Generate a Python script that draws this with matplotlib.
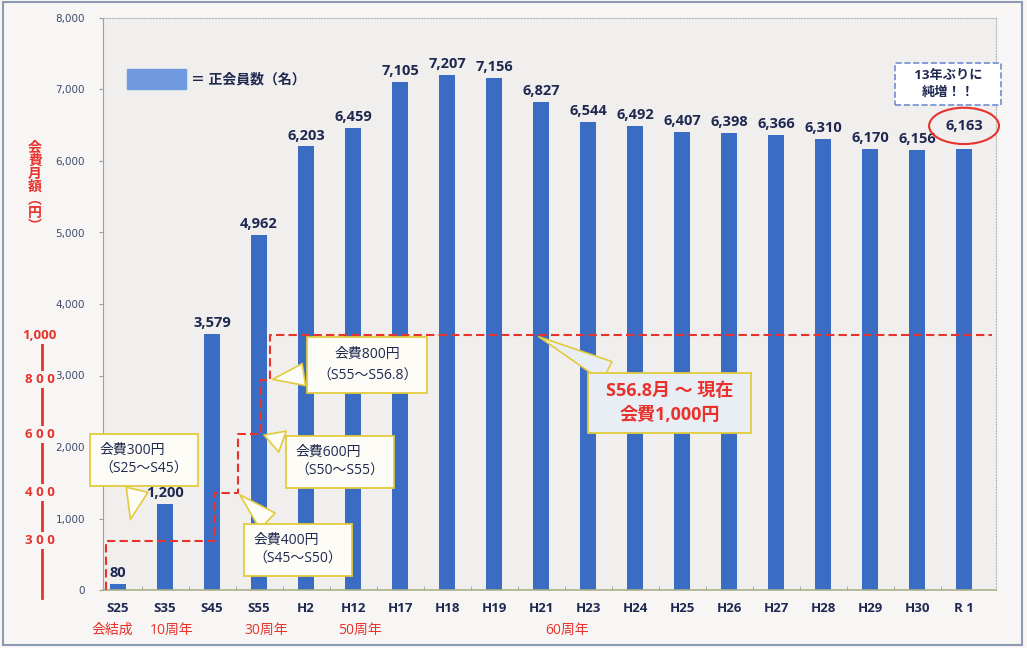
import numpy as np
import matplotlib
matplotlib.use("Agg")
import matplotlib.pyplot as plt
from matplotlib.patches import Rectangle
from matplotlib.transforms import blended_transform_factory

plt.rcParams['font.family'] = ['Open Sans', 'Noto Sans CJK JP', 'DejaVu Sans']

# members per year
categories = ['S25', 'S35', 'S45', 'S55', 'H2', 'H12', 'H17', 'H18', 'H19', 'H21',
              'H23', 'H24', 'H25', 'H26', 'H27', 'H28', 'H29', 'H30', 'R 1']
members = [80, 1200, 3579, 4962, 6203, 6459, 7105, 7207, 7156, 6827,
           6544, 6492, 6407, 6398, 6366, 6310, 6170, 6156, 6163]

# milestones under the x axis
milestone_at = ['S25', 'S35', 'S55', 'H12', 'H21']
milestone_text = ['会結成', '10周年', '30周年', '50周年', '60周年']

# monthly fee (yen) and the Showa year it started
fee_values = [300, 400, 600, 800, 1000]
fee_start = [25, 45, 50, 55, 56.8]
fee_ticks = ['3 0 0', '4 0 0', '6 0 0', '8 0 0', '1,000']

# the fee scale is a broken scale drawn against the member axis
fee_scale_yen = [300, 400, 600, 800, 1000]
fee_scale_pos = [690, 1357, 2180, 2940, 3560]

BAR = '#3b6cc4'
NAVY = '#1f2850'
RED = '#e8322c'
YEL = '#e2cb3c'
BG = '#f7f6f5'
SP = '\u2002'


def fee_y(yen):
    return np.interp(yen, fee_scale_yen, fee_scale_pos)


def showa_x(year):
    # S25, S35, S45, S55 are ten years apart on the category axis
    return (year - 25) / 10 + 0.05


fig = plt.figure(figsize=(10.27, 6.48), dpi=100, facecolor=BG)
ax = fig.add_axes([103 / 1027, 1 - 590 / 648, 893 / 1027, 572 / 648])
ax.set_facecolor('#f1efee')

x = np.arange(len(categories))
ax.bar(x, members, width=0.34, color=BAR, zorder=2)

ax.set_xlim(-0.32, 18.68)
ax.set_ylim(0, 8000)
ax.set_xticks(x)
ax.set_xticklabels(categories, fontsize=9.5, fontweight='bold', color=NAVY)
ax.set_xticks(x[:-1] + 0.5, minor=True)
ax.tick_params(axis='x', which='major', length=0, pad=9)
ax.tick_params(axis='x', which='minor', direction='in', length=3, color='#9aa08a')
ax.set_yticks(np.arange(0, 8001, 1000))
ax.set_yticklabels([f'{v:,}' for v in range(0, 8001, 1000)])
ax.tick_params(axis='y', length=3, color='#9a9a9a', pad=10)
for lbl in ax.get_yticklabels():
    lbl.set_family('DejaVu Sans')
    lbl.set_fontsize(7.5)
    lbl.set_color('#3f4a6b')

for side in ['top', 'right']:
    ax.spines[side].set_linestyle(':')
    ax.spines[side].set_color('#b5b5b5')
ax.spines['left'].set_color('#a0a0a0')
ax.spines['bottom'].set_color('#a8b08a')
ax.spines['bottom'].set_linewidth(1.2)

# value labels
for i, v in enumerate(members[:-1]):
    ax.annotate(f'{v:,}', (i, v), xytext=(0, 5), textcoords='offset points',
                ha='center', va='baseline', fontsize=10.5, fontweight='bold',
                color=NAVY, zorder=4)
ax.annotate(f'{members[-1]:,}', (x[-1], members[-1]), xytext=(0, 14),
            textcoords='offset points', ha='center', va='baseline',
            fontsize=10.5, fontweight='bold', color=NAVY, zorder=4,
            bbox=dict(boxstyle='ellipse,pad=0.4', fc='none', ec=RED, lw=1.5))

# milestones
mt = blended_transform_factory(ax.transData, ax.transAxes)
for cat, txt in zip(milestone_at, milestone_text):
    pos = categories.index(cat)
    if cat == 'H21':
        pos += 0.55
    elif cat == 'S25':
        pos -= 0.12
    else:
        pos += 0.15
    ax.text(pos, -0.07, txt, transform=mt, ha='center', va='center',
            fontsize=10, color=RED, clip_on=False)

# fee step line
sx = [-0.25, -0.25]
sy = [0, fee_y(fee_values[0])]
for k in range(1, len(fee_values)):
    xs = showa_x(fee_start[k])
    sx += [xs, xs]
    sy += [fee_y(fee_values[k - 1]), fee_y(fee_values[k])]
sx.append(18.6)
sy.append(fee_y(fee_values[-1]))
ax.plot(sx, sy, color=RED, lw=1.5, ls=(0, (4, 2)), zorder=3)

# fee axis on the far left
ft = blended_transform_factory(ax.transAxes, ax.transData)
ax.plot([-0.068, -0.068], [-110, fee_y(1000)], transform=ft, color=RED,
        lw=2, clip_on=False, zorder=1)
for yen, lab in zip(fee_values, fee_ticks):
    ax.text(-0.071, fee_y(yen), lab, transform=ft, ha='center', va='center',
            fontsize=9.5, fontweight='bold', color=RED, clip_on=False,
            bbox=dict(boxstyle='square,pad=0.15', fc=BG, ec='none'))
fig.text(35 / 1027, 1 - 187 / 648, '会\n費\n月\n額\n︵\n円\n︶', ha='center',
         va='center', fontsize=10, fontweight='bold', color=RED, linespacing=0.92)

# legend
ax.add_patch(Rectangle((0.027, 0.876), 0.066, 0.035, transform=ax.transAxes,
                       color='#6f9ae0', zorder=5))
ax.text(0.098, 0.893, '＝ 正会員数（名）', transform=ax.transAxes, ha='left',
        va='center', fontsize=10, fontweight='bold', color=NAVY, zorder=5)


def callout(text, tip, center, fc='#fdfcf6', color=NAVY, size=10, weight='normal',
            align='left', pad=0.7, tail=1.6, spacing=1.3):
    ax.annotate(text, xy=tip, xytext=center, ha='center', va='center',
                multialignment=align, fontsize=size, fontweight=weight,
                color=color, linespacing=spacing, zorder=6,
                bbox=dict(boxstyle=f'square,pad={pad}', fc=fc, ec=YEL, lw=1.3),
                arrowprops=dict(arrowstyle=f'wedge,tail_width={tail},shrink_factor=0.5',
                                fc=fc, ec=YEL, lw=1.2))


callout('会費300円\n（S25～S45）', (0.25, fee_y(300) + 260), (0.55, 1818))
callout('会費400円\n（S45～S50）', (showa_x(50), fee_y(400)), (3.83, 559))
callout('会費600円\n（S50～S55）', (showa_x(55), fee_y(600)), (4.72, 1790))
callout('会費800円\n（S55～S56.8）', (showa_x(56.8), fee_y(800)), (5.30, 3147),
        align='center', spacing=1.6)
callout(SP + 'S56.8月 ～ 現在' + SP + '\n会費1,000円', (8.9, fee_y(1000)), (11.74, 2615),
        fc='#e9eef4', color=RED, size=13, weight='bold', align='center',
        pad=0.5, tail=1.2, spacing=1.4)

ax.text(17.66, 7077, SP * 2 + '13年ぶりに' + SP * 2 + '\n純増！！', ha='center',
        va='center', fontsize=9.5, fontweight='bold', color=NAVY, linespacing=1.45,
        zorder=6, clip_on=False,
        bbox=dict(boxstyle='square,pad=0.4', fc='white', ec='#6d8fd6',
                  lw=1.2, ls='--'))

fig.patches.append(Rectangle((0.003, 0.004), 0.992, 0.993, transform=fig.transFigure,
                             fill=False, ec='#8c9ab4', lw=1.5))

fig.savefig('out.png', dpi=100, facecolor=BG)
